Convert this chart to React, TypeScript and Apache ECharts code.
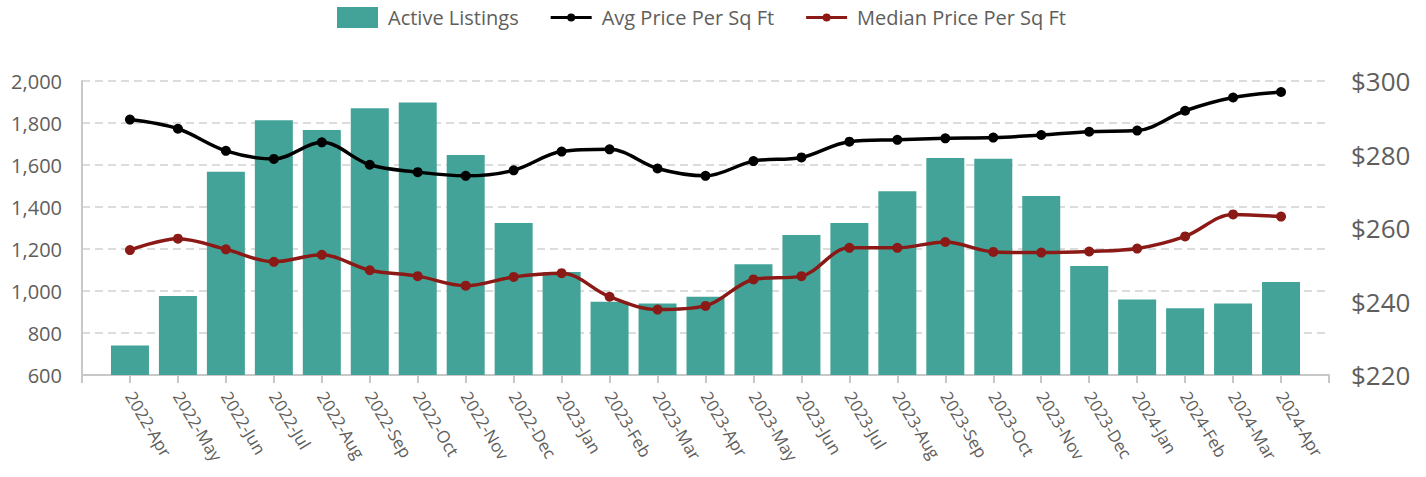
import React, { useEffect, useRef } from "react";
import * as echarts from "echarts";

const months: string[] = [
  "2022-Apr", "2022-May", "2022-Jun", "2022-Jul", "2022-Aug", "2022-Sep", "2022-Oct", "2022-Nov", "2022-Dec",
  "2023-Jan", "2023-Feb", "2023-Mar", "2023-Apr", "2023-May", "2023-Jun", "2023-Jul", "2023-Aug", "2023-Sep",
  "2023-Oct", "2023-Nov", "2023-Dec", "2024-Jan", "2024-Feb", "2024-Mar", "2024-Apr",
];

const activeListings: number[] = [
  740, 976, 1568, 1813, 1767, 1870, 1898, 1648, 1324,
  1090, 949, 940, 973, 1127, 1267, 1324, 1475, 1633,
  1630, 1452, 1119, 960, 918, 941, 1043,
];

const avgPrice: number[] = [
  289.5, 287.0, 281.0, 278.8, 283.3, 277.2, 275.2, 274.2, 275.7,
  280.8, 281.4, 276.2, 274.2, 278.2, 279.2, 283.5, 284.0, 284.4,
  284.6, 285.3, 286.2, 286.5, 291.9, 295.5, 297.0,
];

const medianPrice: number[] = [
  254.0, 257.1, 254.2, 250.8, 252.7, 248.5, 246.9, 244.3, 246.7,
  247.7, 241.3, 237.8, 238.8, 246.0, 246.9, 254.6, 254.6, 256.2,
  253.5, 253.3, 253.6, 254.4, 257.7, 263.7, 263.1,
];

const leftTicks = { min: 600, max: 2000, interval: 200 };
const rightTicks = { min: 220, max: 300, interval: 20 };

const FONT = "'Open Sans', 'Noto Sans', sans-serif";
const TEXT = "#605E5C";
const BAR = "#43A398";
const AVG = "#000000";
const MED = "#8B1A17";

// legend icon: a thin line with a small dot in the middle
const LINE_ICON =
  "path://M0,3.5 L41,3.5 L41,6.5 L0,6.5 Z M24.5,5 A4,4 0 1,1 16.5,5 A4,4 0 1,1 24.5,5 Z";

export default function App() {
  const ref = useRef<HTMLDivElement>(null);
  useEffect(() => {
    if (!ref.current) return;
    const chart = echarts.init(ref.current, undefined, { renderer: "svg" });
    const pad = <T,>(arr: T[]) => [null, ...arr, null];
    chart.setOption({
      animation: false,
      textStyle: { fontFamily: FONT, color: TEXT },
      legend: {
        top: 2,
        left: 332,
        itemGap: 32,
        itemWidth: 41,
        itemHeight: 21,
        textStyle: { fontFamily: FONT, fontSize: 20, color: TEXT, padding: [0, 0, 0, 5] },
        data: [
          { name: "Active Listings", icon: "rect", itemStyle: { color: BAR } },
          { name: "Avg Price Per Sq Ft", icon: LINE_ICON, itemStyle: { color: AVG } },
          { name: "Median Price Per Sq Ft", icon: LINE_ICON, itemStyle: { color: MED } },
        ],
      },
      grid: { left: 82, right: 97, top: 81, bottom: 102, containLabel: false },
      xAxis: {
        type: "category",
        boundaryGap: false,
        data: ["", ...months, ""],
        axisLine: { show: true, lineStyle: { color: "#C8C8C8", width: 2 } },
        axisTick: { show: true, interval: 0, length: 8, lineStyle: { color: "#C8C8C8", width: 2 } },
        axisLabel: {
          interval: 0,
          rotate: -59,
          margin: 18,
          fontSize: 17,
          color: TEXT,
          fontFamily: FONT,
        },
      },
      yAxis: [
        {
          type: "value",
          min: leftTicks.min,
          max: leftTicks.max,
          interval: leftTicks.interval,
          position: "left",
          axisLine: { show: true, lineStyle: { color: "#C8C8C8", width: 2 } },
          axisTick: { show: false },
          splitLine: { show: true, lineStyle: { color: "#DCDCDC", type: [8, 5], width: 2 } },
          axisLabel: {
            fontSize: 20,
            color: TEXT,
            fontFamily: FONT,
            margin: 20,
            formatter: (v: number) => v.toLocaleString("en-US"),
          },
        },
        {
          type: "value",
          min: rightTicks.min,
          max: rightTicks.max,
          interval: rightTicks.interval,
          position: "right",
          axisLine: { show: false },
          axisTick: { show: false },
          splitLine: { show: false },
          axisLabel: {
            fontSize: 26,
            color: TEXT,
            fontFamily: FONT,
            margin: 22,
            formatter: (v: number) => "$" + v,
          },
        },
      ],
      series: [
        {
          name: "Active Listings",
          type: "bar",
          yAxisIndex: 0,
          barWidth: 38,
          itemStyle: { color: BAR },
          data: pad(activeListings),
        },
        {
          name: "Avg Price Per Sq Ft",
          type: "line",
          yAxisIndex: 1,
          smooth: 0.35,
          symbol: "circle",
          symbolSize: 10,
          lineStyle: { color: AVG, width: 3.5 },
          itemStyle: { color: AVG },
          data: pad(avgPrice),
        },
        {
          name: "Median Price Per Sq Ft",
          type: "line",
          yAxisIndex: 1,
          smooth: 0.35,
          symbol: "circle",
          symbolSize: 10,
          lineStyle: { color: MED, width: 3.5 },
          itemStyle: { color: MED },
          data: pad(medianPrice),
        },
      ],
    });
    return () => chart.dispose();
  }, []);
  return (
    <div
      ref={ref}
      style={{ position: "fixed", left: 0, top: 0, width: 1426, height: 477, background: "#fff" }}
    />
  );
}
